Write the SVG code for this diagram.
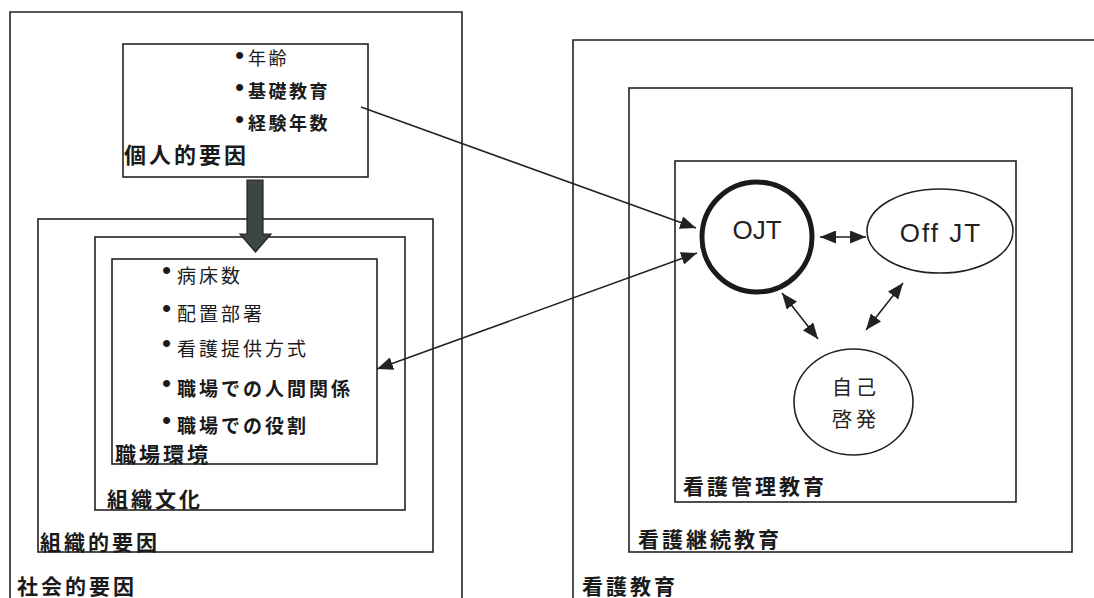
<svg xmlns="http://www.w3.org/2000/svg" width="1094" height="598" viewBox="0 0 1094 598">
  <style>
    .box { fill: none; stroke: #222; stroke-width: 1.6; }
    .lbl { font-family: "Noto Sans CJK JP", "Noto Sans", sans-serif; font-weight: bold; font-size: 21px; letter-spacing: 3px; fill: #1a1a1a; }
    .item { font-family: "Noto Sans CJK JP", "Noto Sans", sans-serif; font-size: 19px; letter-spacing: 3px; fill: #1a1a1a; }
    .item.b { font-weight: bold; }
    .pitem { font-family: "Noto Sans CJK JP", "Noto Sans", sans-serif; font-size: 18px; letter-spacing: 2.5px; fill: #1a1a1a; }
    .pitem.b { font-weight: bold; }
    .bul { font-family: "Liberation Sans", Arial, sans-serif; font-size: 26px; font-weight: normal; letter-spacing: 0; }
    .node { fill: #fff; stroke: #222; stroke-width: 1.6; }
    .nt { font-family: "Liberation Sans", Arial, sans-serif; font-size: 26px; fill: #222; text-anchor: middle; }
    .jt { font-family: "Noto Sans CJK JP", "Noto Sans", sans-serif; font-size: 20px; letter-spacing: 4px; fill: #222; text-anchor: middle; }
    .conn { fill: none; stroke: #222; stroke-width: 1.6; }
  </style>
  <defs>
    <marker id="ah" viewBox="0 0 16 13" refX="16" refY="6.5" markerWidth="16" markerHeight="13" orient="auto-start-reverse" markerUnits="userSpaceOnUse">
      <path d="M0,0 L16,6.5 L0,13 z" fill="#222"/>
    </marker>
  </defs>
  <rect width="1094" height="598" fill="#fff"/>

  <!-- left side: nested factor boxes -->
  <g id="social-factors">
    <path class="box" d="M10,600 V12 H462 V600"/>
    <text class="lbl" x="17" y="594">社会的要因</text>
  </g>
  <g id="organizational-factors">
    <rect class="box" x="38" y="219" width="395" height="333"/>
    <text class="lbl" x="40" y="550">組織的要因</text>
  </g>
  <g id="organizational-culture">
    <rect class="box" x="95" y="237" width="310" height="273"/>
    <text class="lbl" x="107" y="507">組織文化</text>
  </g>
  <g id="workplace-environment">
    <rect class="box" x="112" y="259" width="265" height="205"/>
    <text class="item" x="162" y="279"><tspan class="bul">•</tspan><tspan x="177" y="283">病床数</tspan></text>
    <text class="item" x="162" y="317"><tspan class="bul">•</tspan><tspan x="177" y="321">配置部署</tspan></text>
    <text class="item" x="162" y="352"><tspan class="bul">•</tspan><tspan x="177" y="356">看護提供方式</tspan></text>
    <text class="item b" x="162" y="392"><tspan class="bul">•</tspan><tspan x="177" y="396">職場での人間関係</tspan></text>
    <text class="item b" x="162" y="429"><tspan class="bul">•</tspan><tspan x="177" y="433">職場での役割</tspan></text>
    <text class="lbl" x="115" y="462">職場環境</text>
  </g>
  <g id="personal-factors">
    <rect class="box" x="123" y="44" width="245" height="133"/>
    <text class="pitem" x="235" y="64"><tspan class="bul">•</tspan><tspan x="248" y="65">年齢</tspan></text>
    <text class="pitem b" x="235" y="96"><tspan class="bul">•</tspan><tspan x="248" y="98">基礎教育</tspan></text>
    <text class="pitem b" x="235" y="128"><tspan class="bul">•</tspan><tspan x="248" y="130">経験年数</tspan></text>
    <text class="lbl" x="124" y="163" style="font-size:22px">個人的要因</text>
  </g>
  <g id="influence-arrow">
    <polygon points="247,180 263,180 263,234 271,234 255.5,252 240,234 247,234" fill="#3d4644" stroke="#222" stroke-width="1.2"/>
  </g>

  <!-- right side: nursing education boxes -->
  <g id="nursing-education">
    <path class="box" d="M573,600 V40 H1100"/>
    <text class="lbl" x="582" y="594">看護教育</text>
  </g>
  <g id="continuing-education">
    <rect class="box" x="629" y="88" width="443" height="464"/>
    <text class="lbl" x="638" y="547">看護継続教育</text>
  </g>
  <g id="management-education">
    <rect class="box" x="675" y="161" width="341" height="341"/>
    <text class="lbl" x="683" y="494">看護管理教育</text>
  </g>

  <g id="ojt">
    <circle cx="757" cy="237" r="55" fill="#fff" stroke="#1a1a1a" stroke-width="5"/>
    <text class="nt" x="757" y="239">OJT</text>
  </g>
  <g id="off-jt">
    <ellipse class="node" cx="940" cy="231" rx="73" ry="42"/>
    <text class="nt" x="941" y="242" style="letter-spacing:2px">Off JT</text>
  </g>
  <g id="self-development">
    <ellipse class="node" cx="853.5" cy="402" rx="59.5" ry="53"/>
    <text class="jt" x="856" y="395">自己</text>
    <text class="jt" x="856" y="427">啓発</text>
  </g>

  <!-- connectors -->
  <g id="connectors">
    <line class="conn" x1="361" y1="107" x2="696" y2="228" marker-end="url(#ah)"/>
    <line class="conn" x1="377" y1="369" x2="697" y2="253" marker-start="url(#ah)" marker-end="url(#ah)"/>
    <line class="conn" x1="820" y1="237" x2="866" y2="237" marker-start="url(#ah)" marker-end="url(#ah)"/>
    <line class="conn" x1="782" y1="293" x2="818" y2="339" marker-start="url(#ah)" marker-end="url(#ah)"/>
    <line class="conn" x1="903" y1="283" x2="866" y2="330" marker-start="url(#ah)" marker-end="url(#ah)"/>
  </g>
</svg>
